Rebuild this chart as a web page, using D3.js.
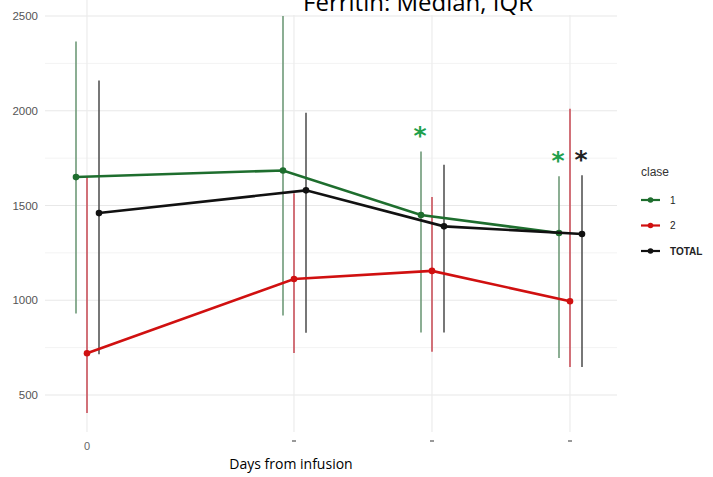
<!DOCTYPE html>
<html><head><meta charset="utf-8">
<script src="https://cdn.jsdelivr.net/npm/d3@7"></script>
<style>body{margin:0;background:#fff}svg{display:block}</style>
</head><body>
<svg id="c" width="713" height="477"></svg>
<script>
const days = [0, 3, 5, 7];
const seriesNames = ["1", "2", "TOTAL"];
const median1 = [1650, 1685, 1450, 1355];
const q1_1 = [930, 920, 830, 695];
const q3_1 = [2365, 2520, 1785, 1655];
const median2 = [720, 1112, 1155, 995];
const q1_2 = [405, 722, 728, 648];
const q3_2 = [1650, 1565, 1545, 2010];
const medianT = [1460, 1580, 1390, 1350];
const q1_T = [715, 828, 830, 648];
const q3_T = [2160, 1990, 1715, 1660];
const yTicks = [500, 1000, 1500, 2000, 2500];
const yMinor = [750, 1250, 1750, 2250];
const xTickLabels = ["0", "", "", ""];
const sigMarks = [{series:"1", day:5}, {series:"1", day:7}, {series:"TOTAL", day:7}];

const colors = {"1":"#1e6e2e","2":"#d01010","TOTAL":"#111111"};
const barColors = {"1":"#6f9a78","2":"#c9505a","TOTAL":"#555555"};
const starColors = {"1":"#1fa04c","2":"#d01010","TOTAL":"#222222"};
const dodge = {"1":-11,"2":0,"TOTAL":12};

const data = [
  {name:"1", med:median1, lo:q1_1, hi:q3_1},
  {name:"2", med:median2, lo:q1_2, hi:q3_2},
  {name:"TOTAL", med:medianT, lo:q1_T, hi:q3_T}
];

const svg = d3.select("#c");
const pLeft = 45, pRight = 617, pTop = 0, pBottom = 432;
const x = d3.scaleLinear().domain([0, 7]).range([87, 570]);
const y = d3.scaleLinear().domain([500, 2500]).range([395, 16]);

// grid
const g = svg.append("g");
g.selectAll(".minor").data(yMinor).join("line")
  .attr("x1", pLeft).attr("x2", pRight).attr("y1", d=>y(d)).attr("y2", d=>y(d))
  .attr("stroke", "#f3f3f3").attr("stroke-width", 1);
g.selectAll(".major").data(yTicks).join("line")
  .attr("x1", pLeft).attr("x2", pRight).attr("y1", d=>y(d)).attr("y2", d=>y(d))
  .attr("stroke", "#e8e8e8").attr("stroke-width", 1.2);
g.selectAll(".vx").data(days).join("line")
  .attr("x1", d=>x(d)).attr("x2", d=>x(d)).attr("y1", pTop).attr("y2", pBottom)
  .attr("stroke", "#ececec").attr("stroke-width", 1.2);

// y axis labels
svg.append("g").selectAll("text").data(yTicks).join("text")
  .attr("x", 38).attr("y", d=>y(d)).attr("dy", "0.35em").attr("text-anchor", "end")
  .attr("font-family", "Liberation Sans, Arial, sans-serif").attr("font-size", 11.5)
  .attr("fill", "#555").text(d=>d);

// x tick labels
const xt = svg.append("g");
xt.selectAll("text").data(days).join("text")
  .attr("x", d=>x(d)).attr("y", 450).attr("text-anchor", "middle")
  .attr("font-family", "Liberation Sans, Arial, sans-serif").attr("font-size", 11)
  .attr("fill", "#666").text((d,i)=>xTickLabels[i]);
xt.selectAll("rect").data(days.filter((d,i)=>xTickLabels[i]==="")).join("rect")
  .attr("x", d=>x(d)-2).attr("y", 440).attr("width", 4).attr("height", 2)
  .attr("fill", "#999");

// error bars
data.forEach(s => {
  svg.append("g").selectAll("line").data(days).join("line")
    .attr("x1", d=>x(d)+dodge[s.name]).attr("x2", d=>x(d)+dodge[s.name])
    .attr("y1", (d,i)=>Math.max(y(s.hi[i]), 16)).attr("y2", (d,i)=>y(s.lo[i]))
    .attr("stroke", barColors[s.name]).attr("stroke-width", 1.6);
});

// lines & points
const line = d3.line();
data.forEach(s => {
  const pts = days.map((d,i)=>[x(d)+dodge[s.name], y(s.med[i])]);
  svg.append("path").attr("d", line(pts)).attr("fill", "none")
    .attr("stroke", colors[s.name]).attr("stroke-width", 2.6);
  svg.append("g").selectAll("circle").data(pts).join("circle")
    .attr("cx", p=>p[0]).attr("cy", p=>p[1]).attr("r", 3.3).attr("fill", colors[s.name]);
});

// significance asterisks
svg.append("g").selectAll("text").data(sigMarks).join("text")
  .attr("x", d=>x(d.day)+dodge[d.series]-1)
  .attr("y", d=>{const s=data.find(e=>e.name===d.series);return y(s.hi[days.indexOf(d.day)])-7;})
  .attr("text-anchor", "middle")
  .attr("font-family", "DejaVu Sans, sans-serif").attr("font-size", 25).attr("font-weight", "bold")
  .attr("fill", d=>starColors[d.series]).text("*");

// title box & text
svg.append("rect").attr("x", 224).attr("y", 0).attr("width", 393).attr("height", 15).attr("fill", "#fff");
svg.append("text").attr("x", 418).attr("y", 11).attr("text-anchor", "middle")
  .attr("font-family", "Open Sans, sans-serif").attr("font-size", 24).attr("fill", "#000")
  .text("Ferritin: Median, IQR");

// x axis title
svg.append("text").attr("x", 291).attr("y", 464).attr("dy", "0.35em").attr("text-anchor", "middle")
  .attr("font-family", "Open Sans, sans-serif").attr("font-size", 14).attr("fill", "#000")
  .text("Days from infusion");

// legend
const lg = svg.append("g");
lg.append("text").attr("x", 641).attr("y", 172).attr("dy", "0.35em")
  .attr("font-family", "Liberation Sans, Arial, sans-serif").attr("font-size", 12).attr("fill", "#333")
  .text("clase");
seriesNames.forEach((n,i) => {
  const yy = 200 + i*25.5;
  lg.append("line").attr("x1", 641).attr("x2", 660).attr("y1", yy).attr("y2", yy)
    .attr("stroke", colors[n]).attr("stroke-width", 2.2);
  lg.append("circle").attr("cx", 650.5).attr("cy", yy).attr("r", 2.8).attr("fill", colors[n]);
  lg.append("text").attr("x", 670).attr("y", yy).attr("dy", "0.35em")
    .attr("font-family", "Liberation Sans, Arial, sans-serif").attr("font-size", 10)
    .attr("font-weight", n==="TOTAL"?"bold":"normal").attr("fill", "#222").text(n);
});
</script>
</body></html>
